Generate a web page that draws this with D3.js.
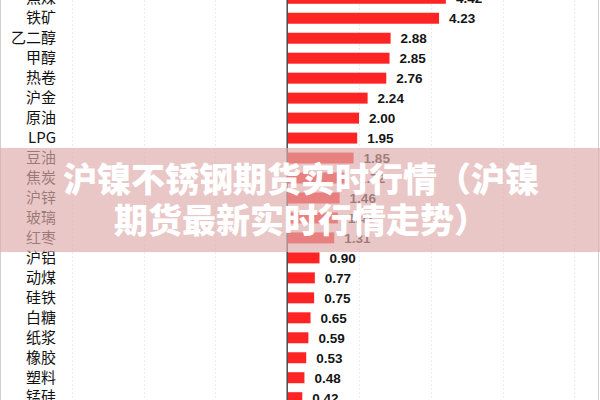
<!DOCTYPE html>
<html>
<head>
<meta charset="utf-8">
<script src="https://cdn.jsdelivr.net/npm/d3@7/dist/d3.min.js"></script>
<style>
  html, body { margin: 0; padding: 0; background: #fff; }
  svg { display: block; }
</style>
</head>
<body>
<div id="chart"></div>
<script>
// ---- data ----
const categories = ["焦煤", "铁矿", "乙二醇", "甲醇", "热卷", "沪金", "原油", "LPG", "豆油", "焦炭", "沪锌", "玻璃", "红枣", "沪铝", "动煤", "硅铁", "白糖", "纸浆", "橡胶", "塑料", "锰硅"];
const values = [4.42, 4.23, 2.88, 2.85, 2.76, 2.24, 2.00, 1.95, 1.85, 1.72, 1.46, 1.41, 1.31, 0.90, 0.77, 0.75, 0.65, 0.59, 0.53, 0.48, 0.42];
const gridTicks = [-8, -6, -4, -2, 2, 4, 6, 8];
const bannerLines = ["沪镍不锈钢期货实时行情（沪镍", "期货最新实时行情走势）"];

const W = 600, H = 400;
const svg = d3.select("#chart").append("svg").attr("width", W).attr("height", H);

const x = d3.scaleLinear().domain([-8, 8]).range([0, 574.4]);
const step = 19.97;
const y = d3.scaleBand().domain(categories)
  .range([-11.7, -11.7 + categories.length * step])
  .paddingInner(0.45).paddingOuter(0.225);

// faint gridlines
svg.append("g").selectAll("line").data(gridTicks).join("line")
  .attr("x1", d => Math.round(x(d)) + 0.5).attr("x2", d => Math.round(x(d)) + 0.5)
  .attr("y1", 0).attr("y2", H)
  .attr("stroke", "#ececec").attr("stroke-width", 1).attr("stroke-dasharray", "2,2");

// frame borders
svg.append("line").attr("x1", 0.5).attr("x2", 0.5).attr("y1", 0).attr("y2", H).attr("stroke", "#cfcfcf");
svg.append("line").attr("x1", 598.5).attr("x2", 598.5).attr("y1", 0).attr("y2", H).attr("stroke", "#cfcfcf");

// bars
svg.append("g").selectAll("rect").data(values).join("rect")
  .attr("x", x(0))
  .attr("y", (d, i) => y(categories[i]))
  .attr("width", d => x(d) - x(0))
  .attr("height", y.bandwidth())
  .attr("fill", "#fe2424");

// value labels
svg.append("g").selectAll("text").data(values).join("text")
  .attr("x", d => x(d) + 10)
  .attr("y", (d, i) => y(categories[i]) + y.bandwidth() / 2)
  .attr("dy", "0.36em")
  .attr("font-family", "'Liberation Sans', Arial, sans-serif")
  .attr("font-weight", "bold")
  .attr("font-size", 13.5)
  .attr("fill", "#151515")
  .text(d => d.toFixed(2));

// category axis (labels on the left)
const yAxis = d3.axisLeft(y).tickSize(0).tickPadding(0);
const gy = svg.append("g").attr("transform", "translate(56,0)").call(yAxis);
gy.select(".domain").remove();
gy.selectAll("text")
  .attr("font-family", "'Noto Sans CJK SC', sans-serif")
  .attr("font-size", 15)
  .attr("fill", "#111");

// zero axis line
svg.append("line")
  .attr("x1", x(0)).attr("x2", x(0)).attr("y1", 0).attr("y2", H)
  .attr("stroke", "#4a4a4a").attr("stroke-width", 1.5);

// banner overlay
svg.append("rect").attr("x", 0).attr("y", 148).attr("width", W).attr("height", 104)
  .attr("fill", "rgb(222,172,172)").attr("fill-opacity", 0.68);
svg.append("g").selectAll("text").data(bannerLines).join("text")
  .attr("x", 301)
  .attr("y", (d, i) => 180 + i * 41)
  .attr("dy", "0.36em")
  .attr("text-anchor", "middle")
  .attr("font-family", "'Noto Sans CJK SC', sans-serif")
  .attr("font-weight", 900)
  .attr("font-size", 34)
  .attr("fill", "#ffffff")
  .text(d => d);
</script>
</body>
</html>
